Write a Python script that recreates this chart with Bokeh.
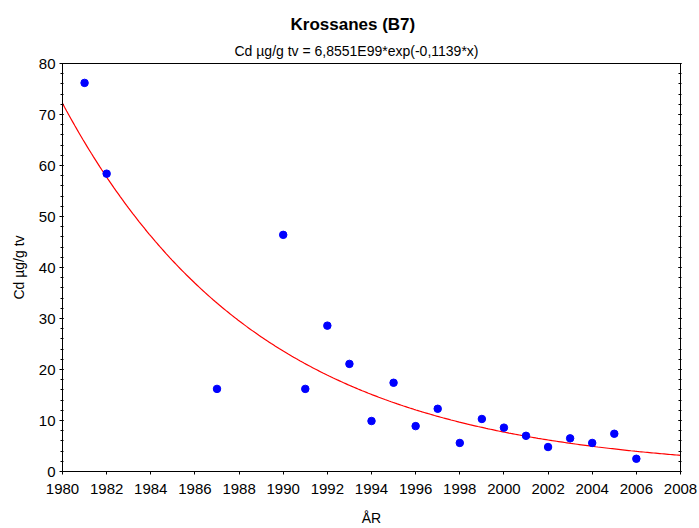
import numpy as np
from bokeh.plotting import figure
from bokeh.models import Range1d, SingleIntervalTicker, LinearAxis, Title
from bokeh.embed import file_html
from bokeh.resources import INLINE

# ---- data ----
years = [1981, 1982, 1987, 1990, 1991, 1992, 1993, 1994, 1995, 1996,
         1997, 1998, 1999, 2000, 2001, 2002, 2003, 2004, 2005, 2006]
cd = [76.2, 58.4, 16.2, 46.4, 16.2, 28.6, 21.1, 9.9, 17.4, 8.9,
      12.3, 5.6, 10.3, 8.6, 7.0, 4.8, 6.5, 5.6, 7.4, 2.5]

title_text = "Krossanes (B7)"
subtitle_text = "Cd µg/g tv = 6,8551E99*exp(-0,1139*x)"
x_label = "ÅR"
y_label = "Cd µg/g tv"
x_start, x_end, x_step = 1980, 2008, 2
y_start, y_end, y_step = 0, 80, 10

FONT = "Liberation Sans"

# exponential fit (log-linear least squares, as in the original)
xs = np.array(years, dtype=float)
ys = np.array(cd, dtype=float)
b, ln_a = np.polyfit(xs - x_start, np.log(ys), 1)
fit_x = np.linspace(x_start, x_end, 300)
fit_y = np.exp(ln_a + b * (fit_x - x_start))

p = figure(width=699, height=528, output_backend="svg", toolbar_location=None,
           x_range=Range1d(x_start, x_end), y_range=Range1d(y_start, y_end),
           min_border_left=62, min_border_right=19, min_border_top=63,
           min_border_bottom=57, title=None)
p.grid.visible = False
p.outline_line_color = "black"
p.outline_line_width = 1
p.background_fill_color = "white"
p.border_fill_color = "white"

p.line(fit_x, fit_y, line_color="#ff0000", line_width=1.2)
p.scatter(years, cd, size=7.5, fill_color="#0000ff", line_color="#0000ff")

# x axis
xa = p.xaxis[0]
xa.ticker = SingleIntervalTicker(interval=x_step, num_minor_ticks=0)
xa.major_tick_in = 0
xa.major_tick_out = 3
xa.minor_tick_in = 0
xa.minor_tick_out = 0
xa.major_label_standoff = 9
xa.major_label_text_font = FONT
xa.major_label_text_font_size = "15px"
xa.major_label_text_color = "black"
xa.axis_label = x_label
xa.axis_label_text_font = FONT
xa.axis_label_text_font_size = "14px"
xa.axis_label_text_font_style = "normal"
xa.axis_label_text_color = "black"
xa.axis_label_standoff = 13
xa.axis_line_color = "black"
xa.major_tick_line_color = "black"

# y axis
ya = p.yaxis[0]
ya.ticker = SingleIntervalTicker(interval=y_step, num_minor_ticks=5)
ya.major_tick_in = 1
ya.major_tick_out = 3
ya.minor_tick_in = 1
ya.minor_tick_out = 2
ya.major_label_standoff = 4
ya.major_label_text_font = FONT
ya.major_label_text_font_size = "15px"
ya.major_label_text_color = "black"
ya.axis_label = y_label
ya.axis_label_text_font = FONT
ya.axis_label_text_font_size = "14px"
ya.axis_label_text_font_style = "normal"
ya.axis_label_text_color = "black"
ya.axis_label_standoff = 9
ya.axis_line_color = "black"
ya.major_tick_line_color = "black"
ya.minor_tick_line_color = "black"

# mirrored ticks on the right side
ra = LinearAxis(ticker=SingleIntervalTicker(interval=y_step, num_minor_ticks=5),
                major_tick_in=2, major_tick_out=1, minor_tick_in=2, minor_tick_out=1,
                major_label_standoff=0, major_label_text_font_size="1px",
                major_label_text_color=None, axis_line_color="black",
                major_tick_line_color="black", minor_tick_line_color="black")
p.add_layout(ra, "right")

# subtitle (nearest the frame) then title
p.add_layout(Title(text=subtitle_text, align="left", offset=172, standoff=9,
                   text_font=FONT, text_font_size="14px", text_font_style="normal",
                   text_color="black"), "above")
p.add_layout(Title(text=title_text, align="left", offset=228, standoff=5,
                   text_font=FONT, text_font_size="17px", text_font_style="bold",
                   text_color="black"), "above")

open("out.html", "w").write(file_html(p, INLINE))
